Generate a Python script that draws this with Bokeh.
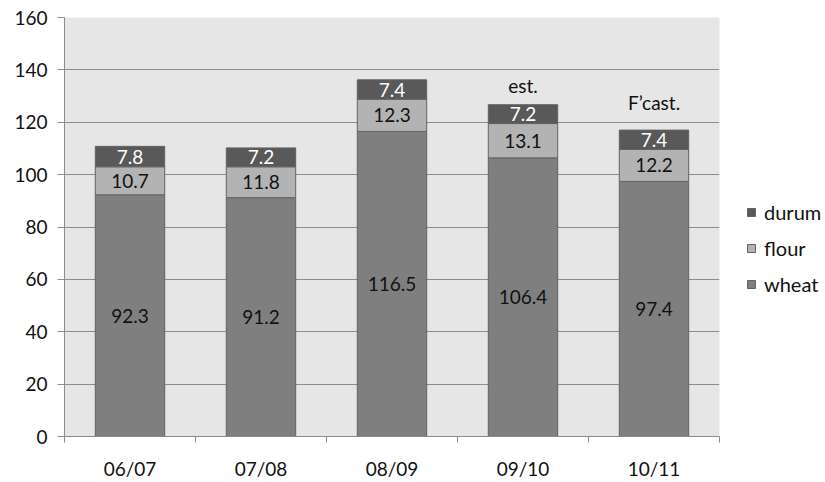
from bokeh.plotting import figure
from bokeh.layouts import row
from bokeh.models import ColumnDataSource, Range1d, FixedTicker, Legend, LegendItem
from bokeh.core.properties import value
from bokeh.embed import file_html
from bokeh.resources import INLINE

# Wheat supply by season (million tonnes)
seasons = ["06/07", "07/08", "08/09", "09/10", "10/11"]
wheat = [92.3, 91.2, 116.5, 106.4, 97.4]
flour = [10.7, 11.8, 12.3, 13.1, 12.2]
durum = [7.8, 7.2, 7.4, 7.2, 7.4]
notes = ["", "", "", "est.", "F\u2019cast."]
series = ["durum", "flour", "wheat"]

FONT = "Lato"
FS = "19px"
COLORS = {"wheat": "#7f7f7f", "flour": "#b3b3b3", "durum": "#595959"}
EDGE = "#636363"
AXIS = "#8c8c8c"

n = len(seasons)
xc = [i + 0.5 for i in range(n)]
w_top = wheat
f_top = [a + b for a, b in zip(wheat, flour)]
d_top = [a + b for a, b in zip(f_top, durum)]

src = ColumnDataSource(dict(
    x=xc, zero=[0] * n, w_top=w_top, f_top=f_top, d_top=d_top,
    w_mid=[t / 2 for t in w_top],
    f_mid=[(a + b) / 2 for a, b in zip(w_top, f_top)],
    d_mid=[(a + b) / 2 for a, b in zip(f_top, d_top)],
    w_lab=[f"{v:.1f}" for v in wheat],
    f_lab=[f"{v:.1f}" for v in flour],
    d_lab=[f"{v:.1f}" for v in durum],
    note=notes,
    note_off=[-19 if s == "est." else -28 for s in notes],
))
stack = {"wheat": ("zero", "w_top"), "flour": ("w_top", "f_top"),
         "durum": ("f_top", "d_top")}

p = figure(width=735, height=482, output_backend="svg", toolbar_location=None,
           x_range=Range1d(0, n), y_range=Range1d(0, 160),
           min_border_left=64, min_border_right=16, min_border_top=17,
           min_border_bottom=46)
p.border_fill_color = "white"
p.outline_line_color = None
p.background_fill_color = "#e6e6e6"

bw = 0.53
for name in ["wheat", "flour", "durum"]:
    b, t = stack[name]
    p.vbar(x="x", bottom=b, top=t, width=bw, source=src,
           fill_color=COLORS[name], line_color=EDGE, line_width=1)

lab_kw = dict(text_font=value(FONT), text_font_size=FS,
              text_align="center", text_baseline="middle", source=src)
p.text(x="x", y="w_mid", text="w_lab", text_color="#111111", **lab_kw)
p.text(x="x", y="f_mid", text="f_lab", text_color="#111111", **lab_kw)
p.text(x="x", y="d_mid", text="d_lab", text_color="white", **lab_kw)
p.text(x="x", y="d_top", text="note", y_offset="note_off",
       text_color="#111111", **lab_kw)

# axes
p.xgrid.visible = False
p.ygrid.grid_line_color = AXIS
p.ygrid.grid_line_width = 1
p.yaxis.ticker = FixedTicker(ticks=list(range(0, 161, 20)))
p.yaxis.axis_line_color = AXIS
p.yaxis.major_tick_line_color = AXIS
p.yaxis.major_tick_out = 7
p.yaxis.major_tick_in = 0
p.yaxis.minor_tick_line_color = None
p.yaxis.major_label_standoff = 10
p.yaxis.major_label_text_font = FONT
p.yaxis.major_label_text_font_size = FS
p.yaxis.major_label_text_color = "#111111"

p.xaxis.ticker = FixedTicker(ticks=xc, minor_ticks=list(range(0, n + 1)))
p.xaxis.major_label_overrides = {x: s for x, s in zip(xc, seasons)}
p.xaxis.axis_line_color = AXIS
p.xaxis.major_tick_line_color = None
p.xaxis.minor_tick_line_color = AXIS
p.xaxis.minor_tick_out = 6
p.xaxis.minor_tick_in = 0
p.xaxis.major_label_standoff = 14
p.xaxis.major_label_text_font = FONT
p.xaxis.major_label_text_font_size = FS
p.xaxis.major_label_text_color = "#111111"

# legend panel on the right; its bar renderers are hidden and only
# supply the legend swatches
lg = figure(width=90, height=482, output_backend="svg", toolbar_location=None,
            x_range=Range1d(1000, 1001), y_range=Range1d(1000, 1001),
            min_border=0, outline_line_color=None)
lg.axis.visible = False
lg.grid.visible = False
lg.background_fill_color = "white"
lg.border_fill_color = "white"
items = []
for name in series:
    b, t = stack[name]
    r = lg.vbar(x="x", bottom=b, top=t, width=bw, source=src,
                fill_color=COLORS[name], line_color=EDGE, line_width=1)
    r.visible = False
    items.append(LegendItem(label=name, renderers=[r]))

legend = Legend(items=items, location=(11, 140), orientation="vertical")
legend.background_fill_alpha = 0
legend.border_line_color = None
legend.glyph_width = 10
legend.glyph_height = 10
legend.label_height = 20
legend.label_standoff = 8
legend.label_text_font = FONT
legend.label_text_font_size = "20px"
legend.label_text_color = "#111111"
legend.spacing = 12
legend.padding = 0
legend.margin = 0
lg.add_layout(legend, "center")

layout = row(p, lg, spacing=0)
open("out.html", "w").write(file_html(layout, INLINE))
